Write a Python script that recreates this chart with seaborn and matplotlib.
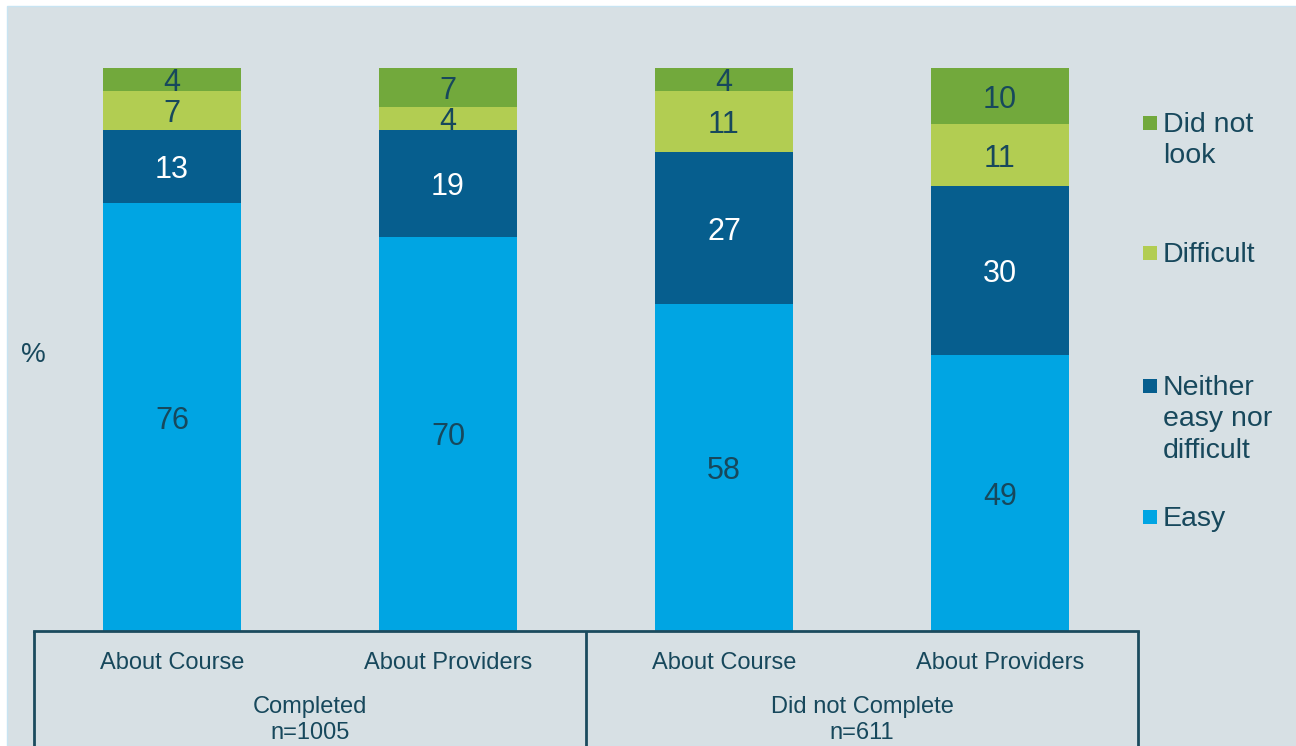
import matplotlib
matplotlib.use("Agg")
import matplotlib.pyplot as plt
from matplotlib.patches import Rectangle
import seaborn as sns
import pandas as pd
import numpy as np

# Survey results (%) per bar
bars = ["About Course", "About Providers", "About Course", "About Providers"]
groups = ["Completed\nn=1005", "Did not Complete\nn=611"]
easy = [76, 70, 58, 49]
neither = [13, 19, 27, 30]
difficult = [7, 4, 11, 11]
did_not_look = [4, 7, 4, 10]

series_names = ["Easy", "Neither easy nor difficult", "Difficult", "Did not look"]
legend_labels = ["Easy", "Neither\neasy nor\ndifficult", "Difficult", "Did not\nlook"]
series_values = [easy, neither, difficult, did_not_look]
colors = ["#00a5e3", "#065e8e", "#b2cd52", "#72a93c"]
label_colors = ["#17485c", "white", "#17485c", "#17485c"]

bg = "#d7e0e4"
ink = "#17485c"

sns.set_theme(style="white")
plt.rcParams["font.family"] = ["Liberation Sans", "DejaVu Sans"]

fig = plt.figure(figsize=(12.96, 7.46), dpi=100, facecolor="white")
fig.patches.append(Rectangle((7 / 1296, 0), 1, 1 - 6 / 746, transform=fig.transFigure,
                             facecolor=bg, edgecolor="#c8e4f2", linewidth=1, zorder=-10))

ax = fig.add_axes([34 / 1296, 1 - 631 / 746, (1138 - 34) / 1296, (631 - 68) / 746])
ax.set_facecolor("none")

pos = np.arange(len(bars))
cum = np.zeros(len(bars))
cums = []
for vals in series_values:
    cum = cum + np.array(vals)
    cums.append(cum.copy())

# draw stacked layers from the top-most cumulative total down
order = [str(p) for p in pos]
for i in reversed(range(len(series_values))):
    d = pd.DataFrame({"pos": order, "val": cums[i]})
    sns.barplot(data=d, x="pos", y="val", color=colors[i], saturation=1,
                width=0.5, ax=ax, order=order, linewidth=0, edgecolor="none", zorder=2)

# segment value labels
for i, vals in enumerate(series_values):
    bottoms = cums[i] - np.array(vals)
    for j, v in enumerate(vals):
        ax.annotate(str(v), xy=(j, bottoms[j] + v / 2), xytext=(0, -3.5),
                    textcoords="offset pixels", ha="center", va="center",
                    fontsize=22, color=label_colors[i], zorder=5)

ax.set_xlim(-0.5, len(bars) - 0.5)
ax.set_ylim(0, 100)
ax.set_xlabel("")
ax.set_ylabel("")
ax.set_xticks([])
ax.set_yticks([])
for s in ["left", "right", "top"]:
    ax.spines[s].set_visible(False)
ax.spines["bottom"].set_color("#1b4b5e")
ax.spines["bottom"].set_linewidth(2)
ax.spines["bottom"].set_zorder(6)

# category labels and grouping frame below the axis
trans = ax.get_xaxis_transform()
for j, name in enumerate(bars):
    ax.annotate(name, xy=(j, 0), xycoords=trans, xytext=(0, -32), textcoords="offset pixels",
                ha="center", va="center", fontsize=17, color=ink)
for g, name in enumerate(groups):
    ax.annotate(name, xy=(g * 2 + 0.5, 0), xycoords=trans, xytext=(0, -89), textcoords="offset pixels",
                ha="center", va="center", fontsize=17, color=ink, linespacing=1.2)
for xv in [-0.5, 1.5, 3.5]:
    ax.plot([xv, xv], [0, -0.3], transform=trans, color="#1b4b5e", lw=2,
            clip_on=False, solid_capstyle="butt")

# y label
fig.text(33 / 1296, 1 - 355 / 746, "%", ha="center", va="center", fontsize=20, color=ink)

# legend
legend_y = {"Did not look": 123, "Difficult": 253, "Neither easy nor difficult": 386, "Easy": 517}
for name, lab, col in zip(series_names, legend_labels, colors):
    y = legend_y[name]
    fig.patches.append(Rectangle((1143 / 1296, 1 - (y + 7) / 746), 14 / 1296, 14 / 746,
                                 transform=fig.transFigure, facecolor=col, edgecolor="none"))
    fig.text(1163 / 1296, 1 - (y - 11) / 746, lab, ha="left", va="top",
             fontsize=20.5, color=ink, linespacing=1.27)

fig.savefig("out.png", dpi=100, facecolor=fig.get_facecolor())
